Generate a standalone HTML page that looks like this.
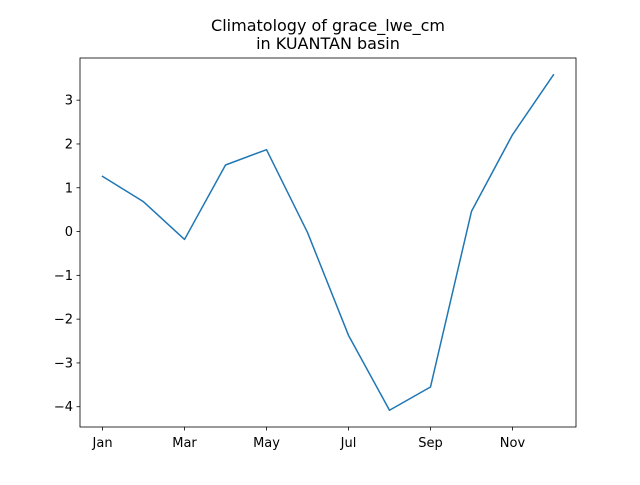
<!DOCTYPE html>
<html><head><meta charset="utf-8"><style>
body{margin:0;background:#fff;}
svg{font-family:"DejaVu Sans","Liberation Sans",sans-serif;}
</style></head><body>
<svg id="chart" width="640" height="480">
<text x="328" y="31" font-size="16" text-anchor="middle">Climatology of grace_lwe_cm</text>
<text x="328" y="49" font-size="16" text-anchor="middle">in KUANTAN basin</text>
<g id="axes"></g>
</svg>
<script>
const months = ["Jan","Feb","Mar","Apr","May","Jun","Jul","Aug","Sep","Oct","Nov","Dec"];
const values = [1.26,0.68,-0.18,1.52,1.87,-0.02,-2.37,-4.08,-3.55,0.46,2.21,3.58];
const xTickLabels = ["Jan","Mar","May","Jul","Sep","Nov"];
const yTicks = [-4,-3,-2,-1,0,1,2,3];

const L=80,R=576,T=58,B=427;
const ns="http://www.w3.org/2000/svg";
const g=document.getElementById('axes');
const n=values.length;
const xmin=-0.05*(n-1), xmax=(n-1)*1.05;
const vmin=Math.min(...values), vmax=Math.max(...values), pad=(vmax-vmin)*0.05;
const ymin=vmin-pad, ymax=vmax+pad;
const xs=i=>L+(i-xmin)/(xmax-xmin)*(R-L);
const ys=v=>B-(v-ymin)/(ymax-ymin)*(B-T);
function mk(tag,attrs){const e=document.createElementNS(ns,tag);for(const k in attrs)e.setAttribute(k,attrs[k]);g.appendChild(e);return e;}

const pts=values.map((v,i)=>xs(i).toFixed(2)+","+ys(v).toFixed(2)).join(" ");
const line=mk('polyline',{points:pts,fill:'none',stroke:'#1f77b4','stroke-width':1.5,'stroke-linejoin':'round','stroke-linecap':'square'});



const frame=mk('rect',{x:L,y:T,width:R-L,height:B-T,fill:'none',stroke:'#000','stroke-width':0.8});



xTickLabels.forEach(lab=>{
  const i=months.indexOf(lab);const x=xs(i);
  const t=mk('line',{x1:x,x2:x,y1:B,y2:B+3.5,stroke:'#000','stroke-width':0.8});
  
  
  const tx=mk('text',{x:x,y:B+20,'font-size':13,'text-anchor':'middle'});
  tx.textContent=lab;
  
  
});
yTicks.forEach(v=>{
  const y=ys(v);
  const t=mk('line',{x1:L-3.5,x2:L,y1:y,y2:y,stroke:'#000','stroke-width':0.8});
  
  
  const tx=mk('text',{x:L-7,y:y+4.5,'font-size':13,'text-anchor':'end'});
  tx.textContent=v<0?'\u2212'+(-v):String(v);
  
  
});
</script>
</body></html>
